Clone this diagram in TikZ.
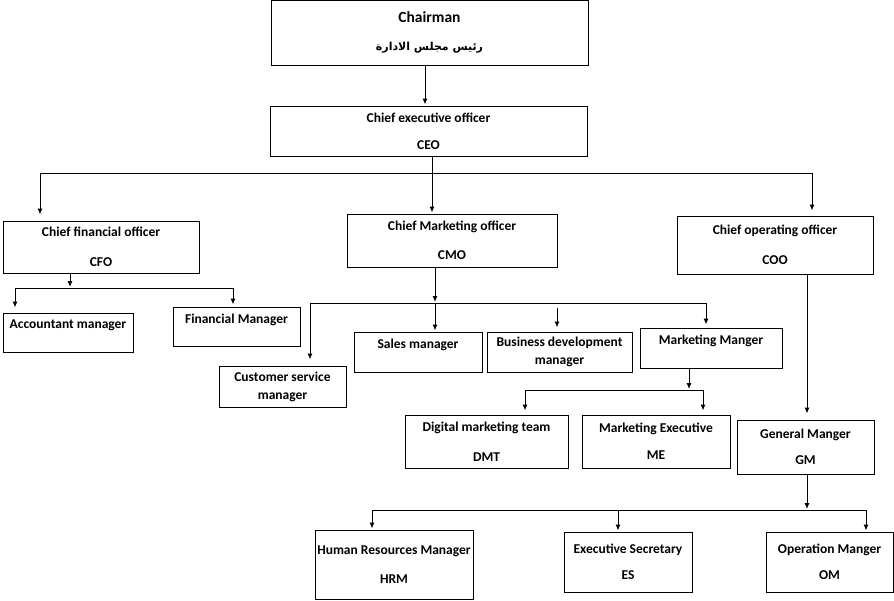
\documentclass[tikz,border=0pt]{standalone}
\usepackage{fontspec}
\setmainfont{Carlito}
\newfontfamily\arabicfont[Script=Arabic]{DejaVu Sans}
\TeXXeTstate=1
\usetikzlibrary{arrows.meta}

\begin{document}
\begin{tikzpicture}[
        ->,
        >={Latex[length=6pt,width=5pt]},
        x=1pt, y=-1pt,
        line width=1pt,
        shorten > = 1pt] % tip stops just short of the box

        \tikzstyle{box}=[
            draw = black,
            rectangle,
            line width = 1pt,
            inner sep = 0pt,
            align = center,
            font = \fontsize{13.5}{16}\selectfont\bfseries
        ]
        \tikzset{up/.style={text depth=16pt}}
        \tikzset{bus/.style={-, shorten >=0pt}}

        \useasboundingbox (0,0) rectangle (894,600);

        % top
        \node[box, minimum width=317pt, minimum height=65pt] (chair) at (429.5,32.5)
            {\fontsize{15.5}{18}\selectfont Chairman\\[12pt]{\arabicfont\bfseries\fontsize{11}{13}\selectfont\beginR رئيس مجلس الادارة\endR}};
        \node[box, minimum width=317pt, minimum height=50pt] (ceo) at (428.5,131)
            {Chief executive officer\\[11pt]CEO};

        % chiefs
        \node[box, minimum width=196pt, minimum height=52pt] (cfo) at (101,247)
            {Chief financial officer\\[14pt]CFO};
        \node[box, minimum width=210pt, minimum height=53pt] (cmo) at (452,240.5)
            {Chief Marketing officer\\[13pt]CMO};
        \node[box, minimum width=196pt, minimum height=58pt] (coo) at (775,245)
            {Chief operating officer\\[14pt]COO};

        % finance
        \node[box, up, minimum width=130pt, minimum height=39pt] (acc) at (68,332.5)
            {Accountant manager};
        \node[box, up, minimum width=127pt, minimum height=39pt] (fin) at (236.5,326.5)
            {Financial Manager};

        % marketing
        \node[box, minimum width=127pt, minimum height=41pt] (csm) at (282.5,386.5)
            {Customer service\\[2pt]manager};
        \node[box, up, minimum width=128pt, minimum height=40pt] (sal) at (418,352)
            {Sales manager};
        \node[box, minimum width=145pt, minimum height=40pt] (bdm) at (559.5,352)
            {Business development\\[2pt]manager};
        \node[box, up, minimum width=142pt, minimum height=40pt] (mkm) at (711,348)
            {Marketing Manger};
        \node[box, minimum width=163pt, minimum height=53pt] (dmt) at (486.5,441.5)
            {Digital marketing team\\[14pt]DMT};
        \node[box, minimum width=148pt, minimum height=53pt] (mex) at (656,441.5)
            {Marketing Executive\\[11pt]ME};

        % operations
        \node[box, minimum width=137pt, minimum height=54pt] (gm) at (805.5,447)
            {General Manger\\[10pt]GM};
        \node[box, minimum width=158pt, minimum height=69pt] (hrm) at (394,564.5)
            {Human Resources Manager\\[13pt]HRM};
        \node[box, minimum width=128pt, minimum height=60pt] (es) at (628,562)
            {Executive Secretary\\[10pt]ES};
        \node[box, minimum width=127pt, minimum height=60pt] (om) at (829.5,562)
            {Operation Manger\\[10pt]OM};

        % junctions
        \coordinate (b0) at (432,173);
        \coordinate (b1) at (40,173);
        \coordinate (b2) at (812,173);
        \coordinate (f0) at (70,288);
        \coordinate (f1) at (15,288);
        \coordinate (f2) at (233,288);
        \coordinate (m0) at (435,303);
        \coordinate (m1) at (310,303);
        \coordinate (m2) at (706,303);
        \coordinate (m3) at (557,308);
        \coordinate (k0) at (689,390);
        \coordinate (k1) at (525,390);
        \coordinate (k2) at (703,390);
        \coordinate (o0) at (807,510);
        \coordinate (o1) at (372,510);
        \coordinate (o2) at (866,510);
        \coordinate (o3) at (618,510);

        \draw (chair.south -| 425,0) -- (ceo.north -| 425,0);
        \draw (ceo.south -| b0) -- (cmo.north -| b0);
        \draw[bus] (b1) -- (b2);
        \draw[shorten >=6pt] (b1) -- (b1 |- cfo.north);
        \draw[shorten >=5pt] (b2) -- (b2 |- coo.north);

        \draw (cfo.south -| f0) -- (f0);
        \draw[bus] (f1) -- (f2);
        \draw[shorten >=5pt] (f1) -- (f1 |- acc.north);
        \draw[shorten >=2pt] (f2) -- (f2 |- fin.north);

        \draw (cmo.south -| m0) -- (m0);
        \draw (m0) -- (m0 |- sal.north);
        \draw[bus] (m1) -- (m2);
        \draw[shorten >=6pt] (m1) -- (m1 |- csm.north);
        \draw[shorten >=4pt] (m3) -- (m3 |- bdm.north);
        \draw[shorten >=3pt] (m2) -- (m2 |- mkm.north);

        \draw (mkm.south -| k0) -- (k0);
        \draw[bus] (k1) -- (k2);
        \draw[shorten >=4pt] (k1) -- (k1 |- dmt.north);
        \draw[shorten >=4pt] (k2) -- (k2 |- mex.north);

        \draw[shorten >=6pt] (coo.south -| o0) -- (gm.north -| o0);
        \draw[shorten >=1pt] (gm.south -| o0) -- (o0);
        \draw[bus] (o1) -- (o2);
        \draw (o1) -- (o1 |- hrm.north);
        \draw (o3) -- (o3 |- es.north);
        \draw (o2) -- (o2 |- om.north);
    \end{tikzpicture}
\end{document}
